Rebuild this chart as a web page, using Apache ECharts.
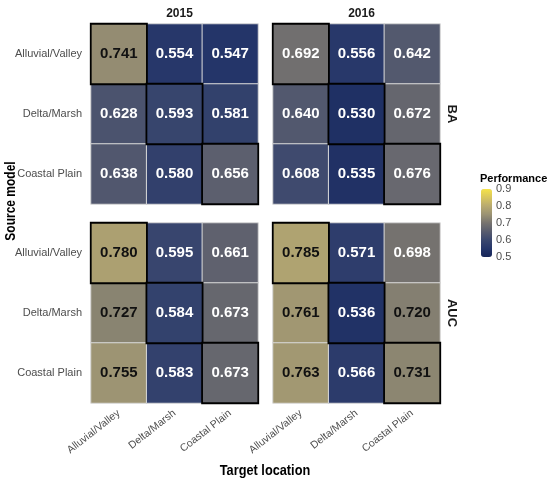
<!DOCTYPE html>
<html>
<head>
<meta charset="utf-8">
<script src="https://cdn.jsdelivr.net/npm/echarts@6/dist/echarts.min.js"></script>
<style>
html, body { margin:0; padding:0; background:#fff; }
#main { width:550px; height:484px; }
</style>
</head>
<body>
<div id="main"></div>
<script>
// categories
var locations = ['Alluvial/Valley', 'Delta/Marsh', 'Coastal Plain'];
var years = ['2015', '2016'];
var metrics = ['BA', 'AUC'];
var legendTicks = [0.5, 0.6, 0.7, 0.8, 0.9];

// rows = source model, cols = target location
var ba2015 = [[0.741, 0.554, 0.547], [0.628, 0.593, 0.581], [0.638, 0.580, 0.656]];
var ba2016 = [[0.692, 0.556, 0.642], [0.640, 0.530, 0.672], [0.608, 0.535, 0.676]];
var auc2015 = [[0.780, 0.595, 0.661], [0.727, 0.584, 0.673], [0.755, 0.583, 0.673]];
var auc2016 = [[0.785, 0.571, 0.698], [0.761, 0.536, 0.720], [0.763, 0.566, 0.731]];

var panels = [ba2015, ba2016, auc2015, auc2016];
// cividis-like ramp, 0.5 -> 0.9 in steps of 0.05
var ramp = ['#17265A', '#25366A', '#3A476E', '#585C6E', '#76736F', '#9A9273', '#B8AA70', '#D8C65E', '#F6E348'];

var fontName = 'Liberation Sans, Arial, sans-serif';
var panelLeft = [91, 273];
var panelTop = [24, 223];
var panelW = 167, panelH = 180;

var grids = [], xAxes = [], yAxes = [], series = [];

for (var p = 0; p < panels.length; p++) {
    var col = p % 2, row = Math.floor(p / 2);
    grids.push({ left: panelLeft[col], top: panelTop[row], width: panelW, height: panelH });
    xAxes.push({
        type: 'category', gridIndex: p, data: locations, position: 'bottom',
        axisLine: { show: false }, axisTick: { show: false }, splitLine: { show: false },
        axisLabel: {
            show: row == 1, rotate: 38, color: '#4d4d4d', fontSize: 10.5, fontFamily: fontName,
            interval: 0, margin: 9
        }
    });
    yAxes.push({
        type: 'category', gridIndex: p, data: locations, inverse: true,
        axisLine: { show: false }, axisTick: { show: false }, splitLine: { show: false },
        axisLabel: { show: col == 0, color: '#4d4d4d', fontSize: 11, fontFamily: fontName, margin: 9 }
    });

    var normal = [], diag = [];
    for (var i = 0; i < 3; i++) {
        for (var j = 0; j < 3; j++) {
            var v = panels[p][i][j];
            var item = {
                value: [j, i, v],
                label: { color: v > 0.7 ? '#111' : '#fff' },
                itemStyle: { borderColor: '#d9d9d9', borderWidth: 1 }
            };
            if (i == j) {
                item.itemStyle = { borderColor: '#000', borderWidth: 1.8 };
                diag.push(item);
            } else {
                normal.push(item);
            }
        }
    }
    series.push({
        type: 'heatmap', xAxisIndex: p, yAxisIndex: p,
        data: normal.concat(diag),
        label: {
            show: true, fontSize: 15, fontWeight: 'bold', fontFamily: fontName,
            formatter: function (d) { return d.value[2].toFixed(3); }
        },
        emphasis: { disabled: true }
    });
}

// colour bar axis for the legend
grids.push({ left: 481, top: 189, width: 11, height: 68 });
xAxes.push({ type: 'value', gridIndex: 4, show: false });
yAxes.push({
    type: 'value', gridIndex: 4, position: 'right', min: 0.5, max: 0.9, interval: 0.1,
    axisLine: { show: false }, splitLine: { show: false },
    axisTick: { show: true, inside: true, length: 3, lineStyle: { color: '#fff', width: 1 } },
    axisLabel: {
        color: '#4d4d4d', fontSize: 11, fontFamily: fontName, margin: 4,
        formatter: function (v) { return legendTicks.indexOf(Math.round(v * 10) / 10) >= 0 ? v.toFixed(1) : ''; }
    }
});

var option = {
    backgroundColor: '#fff',
    animation: false,
    title: [
        { text: years[0], left: panelLeft[0] + panelW / 2, top: 3, textAlign: 'center',
          textStyle: { fontSize: 12, fontWeight: 'bold', color: '#1a1a1a', fontFamily: fontName } },
        { text: years[1], left: panelLeft[1] + panelW / 2, top: 3, textAlign: 'center',
          textStyle: { fontSize: 12, fontWeight: 'bold', color: '#1a1a1a', fontFamily: fontName } }
    ],
    grid: grids,
    xAxis: xAxes,
    yAxis: yAxes,
    visualMap: {
        type: 'continuous', min: 0.5, max: 0.9, dimension: 2,
        seriesIndex: [0, 1, 2, 3],
        calculable: false, realtime: false,
        left: 481, top: 189, itemWidth: 11, itemHeight: 68, padding: 0,
        text: null, showLabel: false,
        inRange: { color: ramp }
    },
    graphic: [
        { type: 'text', x: 452, y: panelTop[0] + panelH / 2, rotation: -Math.PI / 2,
          style: { text: metrics[0], fill: '#1a1a1a', font: 'bold 13px ' + fontName, align: 'center', verticalAlign: 'middle' } },
        { type: 'text', x: 452, y: panelTop[1] + panelH / 2, rotation: -Math.PI / 2,
          style: { text: metrics[1], fill: '#1a1a1a', font: 'bold 13px ' + fontName, align: 'center', verticalAlign: 'middle' } },
        { type: 'text', x: 11, y: 201, rotation: Math.PI / 2, scaleX: 0.8,
          style: { text: 'Source model', fill: '#000', font: 'bold 15px ' + fontName, align: 'center', verticalAlign: 'middle' } },
        { type: 'text', x: 265, y: 471, scaleX: 0.85,
          style: { text: 'Target location', fill: '#000', font: 'bold 15px ' + fontName, align: 'center', verticalAlign: 'middle' } },
        { type: 'text', x: 480, y: 179,
          style: { text: 'Performance', fill: '#000', font: 'bold 11px ' + fontName, align: 'left', verticalAlign: 'middle' } }
    ],
    series: series
};

var myChart = echarts.init(document.getElementById('main'));
myChart.setOption(option);
</script>
</body>
</html>
